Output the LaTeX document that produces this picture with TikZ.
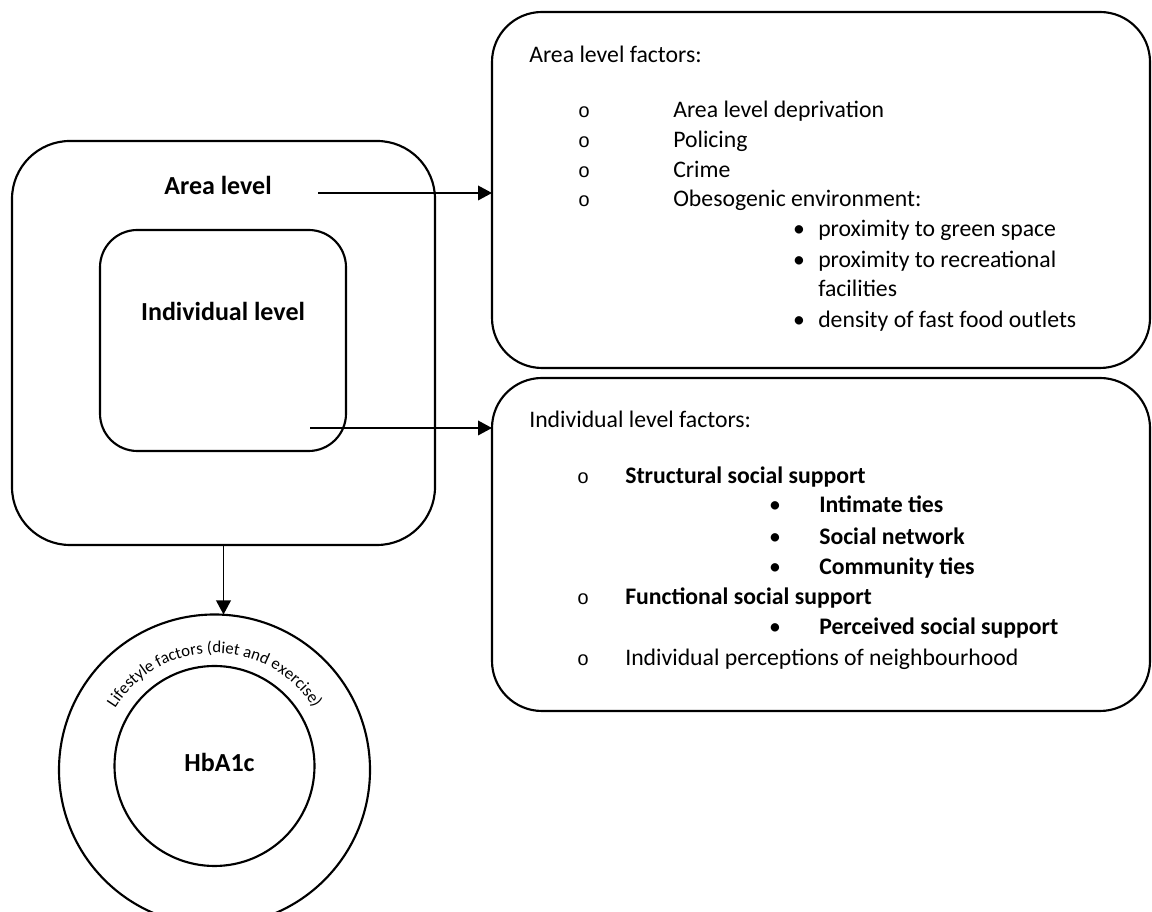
\documentclass[tikz,border=0pt]{standalone}
\usepackage{fontspec}
\setmainfont{Carlito}
\newfontfamily\bulletmono{Liberation Mono}
\usetikzlibrary{arrows.meta,decorations.text}
\begin{document}
\begin{tikzpicture}[x=0.75pt,y=0.75pt,
  frame/.style={draw, line width=1.6pt, rounded corners=#1, inner sep=0pt, outer sep=0pt},
  ring/.style={draw, circle, line width=1.6pt, inner sep=0pt, outer sep=0pt},
  link/.style={line width=1.1pt, -{Triangle[length=10.5pt,width=11pt]}},
  lbl/.style={font=\bfseries\fontsize{19.5}{23}\selectfont, inner sep=0pt, anchor=base},
  txt/.style={font=\fontsize{17.8}{21}\selectfont, inner sep=0pt, anchor=base west},
  btxt/.style={txt, font=\bfseries\fontsize{17.8}{21}\selectfont},
  obul/.style={font=\bulletmono\fontsize{15}{18}\selectfont, inner sep=0pt, anchor=base},
  fbul/.style={font=\fontsize{17.8}{21}\selectfont, inner sep=0pt, anchor=base}
]
\clip (0,0) rectangle (1152,912);

% nested level boxes
\node[frame=43.5pt, minimum width=317.25pt, minimum height=303pt] (area) at (223.5,569) {};
\node[frame=28pt, minimum width=184.5pt, minimum height=165.75pt] (indiv) at (223,571.5) {};
\node[lbl] (arealbl) at (218,717) {Area level};
\node[lbl] (indivlbl) at (223,591) {Individual level};

% factor boxes
\node[frame=37.5pt, minimum width=493.5pt, minimum height=267pt] (areaf) at (821,722) {};
\node[frame=37.5pt, minimum width=493.5pt, minimum height=249.75pt] (indivf) at (821,367.5) {};

% outcome rings
\node[ring, minimum size=233.25pt] (outer) at (214.5,142) {};
\node[ring, minimum size=150pt] (hba) at (214.5,146) {};
\node[lbl] (hbalbl) at (219.5,140) {HbA1c};
\path[decorate, decoration={text along path, text align=center,
      text={|\fontsize{12.6}{14}\selectfont|Lifestyle factors (diet and exercise)}}]
  (outer.center) ++(147:117) arc[start angle=147, end angle=33, radius=117];

% connectors
\coordinate (areastart) at (318,719);
\coordinate (indivstart) at (310,484);
\draw[link] (areastart) -- (areastart -| areaf.west);
\draw[link] (indivstart) -- (indivstart -| indivf.west);
\draw[link] (area.south) -- (area.south |- outer.north);

% area level factors
\node[txt] (afhead) at (529,849) {Area level factors:};
\node[obul] (ab1) at (584,794) {o};
\node[txt] (at1) at (673,794) {Area level deprivation};
\node[obul] (ab2) at (584,764) {o};
\node[txt] (at2) at (673,764) {Policing};
\node[obul] (ab3) at (584,734) {o};
\node[txt] (at3) at (673,734) {Crime};
\node[obul] (ab4) at (584,705) {o};
\node[txt] (at4) at (673,705) {Obesogenic environment:};
\node[fbul] (as1) at (799,675) {•};
\node[txt] (ast1) at (818,675) {proximity to green space};
\node[fbul] (as2) at (799,644) {•};
\node[txt] (ast2) at (818,644) {proximity to recreational};
\node[txt] (ast2b) at (818,615) {facilities};
\node[fbul] (as3) at (799,584) {•};
\node[txt] (ast3) at (818,584) {density of fast food outlets};

% individual level factors
\node[txt] (ifhead) at (529,484) {Individual level factors:};
\node[obul] (ib1) at (583,428) {o};
\node[btxt] (it1) at (625,428) {Structural social support};
\node[fbul] (is1) at (775,399) {•};
\node[btxt] (ist1) at (819,399) {Intimate ties};
\node[fbul] (is2) at (775,367) {•};
\node[btxt] (ist2) at (819,367) {Social network};
\node[fbul] (is3) at (775,337) {•};
\node[btxt] (ist3) at (819,337) {Community ties};
\node[obul] (ib2) at (583,307) {o};
\node[btxt] (it2) at (625,307) {Functional social support};
\node[fbul] (is4) at (775,277) {•};
\node[btxt] (ist4) at (819,277) {Perceived social support};
\node[obul] (ib3) at (583,246) {o};
\node[txt] (it3) at (625,246) {Individual perceptions of neighbourhood};
\end{tikzpicture}
\end{document}
